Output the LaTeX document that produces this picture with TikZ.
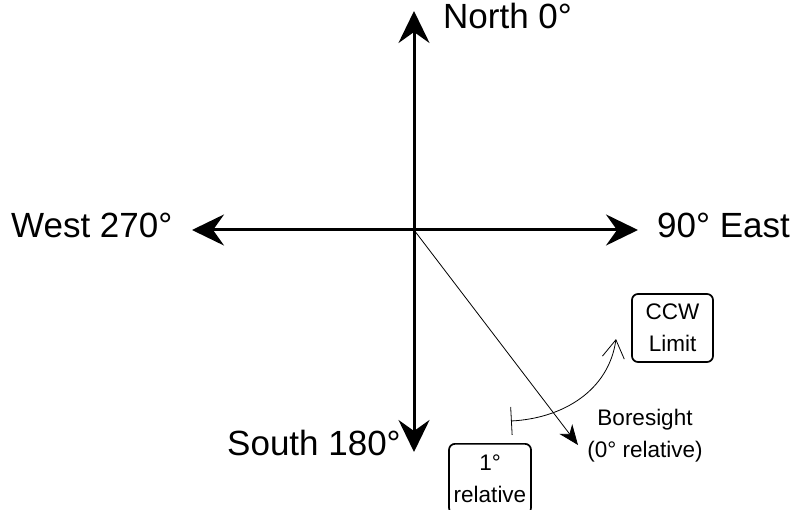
\documentclass[tikz,border=0pt]{standalone}
\usepackage{fontspec}
\setmainfont{Liberation Sans}
\usetikzlibrary{arrows.meta}
\begin{document}
\begin{tikzpicture}[x=1pt,y=-1pt,
  big/.style={font=\fontsize{35}{40}\selectfont, inner sep=0pt},
  small/.style={font=\fontsize{22.5}{32}\selectfont, align=center},
  axis/.style={line width=3pt, {Stealth[length=32pt,width=31pt,inset=11pt]}-{Stealth[length=32pt,width=31pt,inset=11pt]}},
  box/.style={draw, line width=1.7pt, rounded corners=6pt, small, inner sep=3pt}]
\useasboundingbox (0,0) rectangle (794,510);
\coordinate (O) at (414,230);
\coordinate (N) at (414,11);
\coordinate (S) at (414,452);
\coordinate (W) at (192,230);
\coordinate (E) at (638,230);
\draw[axis] (N) -- (S);
\draw[axis] (W) -- (E);
\node[big, anchor=base west] (nl) at (443,29) {North 0°};
\node[big, anchor=base west] (wl) at (11,238) {West 270°};
\node[big, anchor=base west] (el) at (657,238) {90° East};
\node[big, anchor=base west] (sl) at (227,455) {South 180°};
\coordinate (B) at (578,445);
\draw[line width=0.8pt, -{Stealth[length=20pt,width=16pt,inset=6pt]}] (O) -- (B);
\node[small, inner sep=0pt] (bl) at (645,436) {Boresight\\(0° relative)};
\node[box, minimum width=81pt, minimum height=68pt] (ccw) at (672.5,328) {CCW\\Limit};
\node[box, minimum width=82pt, minimum height=70pt, anchor=north] (rel) at (490,443) {1°\\relative};
\coordinate (c1) at (511,421);
\coordinate (c2) at (616,339);
\draw[line width=0.8pt, {Bar[width=28pt]}-{Straight Barb[length=18pt,width=22pt,line width=0.8pt]}] (c1) to[out=3, in=-98] (c2);
\end{tikzpicture}
\end{document}
